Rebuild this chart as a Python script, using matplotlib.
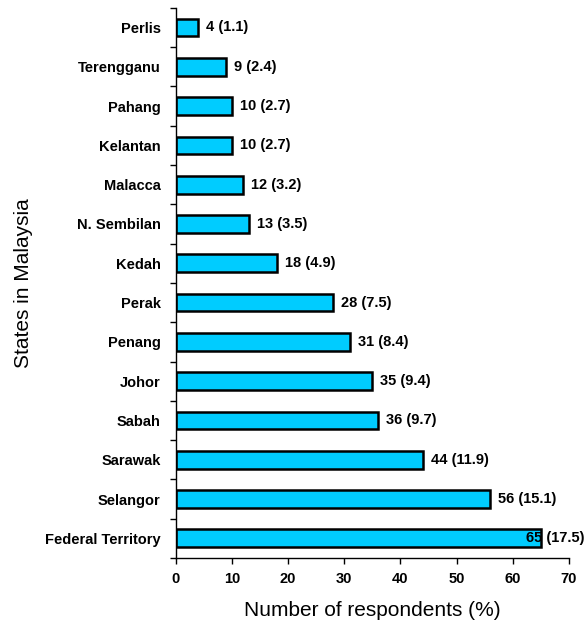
import matplotlib
matplotlib.use("Agg")
import matplotlib.pyplot as plt
import numpy as np

plt.rcParams['font.family'] = ['Liberation Sans', 'DejaVu Sans']

states = ['Perlis', 'Terengganu', 'Pahang', 'Kelantan', 'Malacca', 'N. Sembilan',
          'Kedah', 'Perak', 'Penang', 'Johor', 'Sabah', 'Sarawak', 'Selangor',
          'Federal Territory']
counts = [4, 9, 10, 10, 12, 13, 18, 28, 31, 35, 36, 44, 56, 65]
percents = [1.1, 2.4, 2.7, 2.7, 3.2, 3.5, 4.9, 7.5, 8.4, 9.4, 9.7, 11.9, 15.1, 17.5]

fig = plt.figure(figsize=(5.86, 6.28), dpi=100)
ax = fig.add_axes([0.300, 0.1115, 0.671, 0.876])

y = np.arange(len(states))
ax.barh(y, counts, height=0.45, color='#00CCFF', edgecolor='black', linewidth=1.8)

for i in range(len(states)):
    label = str(counts[i]) + ' (' + str(percents[i]) + ')'
    if counts[i] + 1.4 > 62.3:
        # last label runs into the axis end, so it overlaps the bar
        ax.text(62.3, y[i], label, va='center', ha='left', fontsize=10.5, fontweight='bold')
    else:
        ax.text(counts[i] + 1.4, y[i], label, va='center', ha='left', fontsize=10.5, fontweight='bold')

ax.set_xlim(0, 70)
ax.set_ylim(len(states) - 0.5, -0.5)
ax.set_xticks(np.arange(0, 71, 10))
ax.set_yticks(y)
ax.set_yticklabels(states, fontweight='bold', fontsize=10.5)
ax.set_yticks(np.arange(-0.5, len(states), 1), minor=True)
ax.tick_params(axis='y', which='major', length=0, pad=11)
ax.tick_params(axis='y', which='minor', length=4, width=1)
ax.tick_params(axis='x', length=4, width=1, labelsize=10.5, pad=6)
for lab in ax.get_xticklabels():
    lab.set_fontweight('bold')

ax.spines['top'].set_visible(False)
ax.spines['right'].set_visible(False)
ax.spines['left'].set_linewidth(1)
ax.spines['bottom'].set_linewidth(1)

ax.set_xlabel('Number of respondents (%)', fontsize=15, labelpad=11)
ax.set_ylabel('States in Malaysia', fontsize=15, labelpad=8.5)

fig.savefig('out.png', dpi=100)
